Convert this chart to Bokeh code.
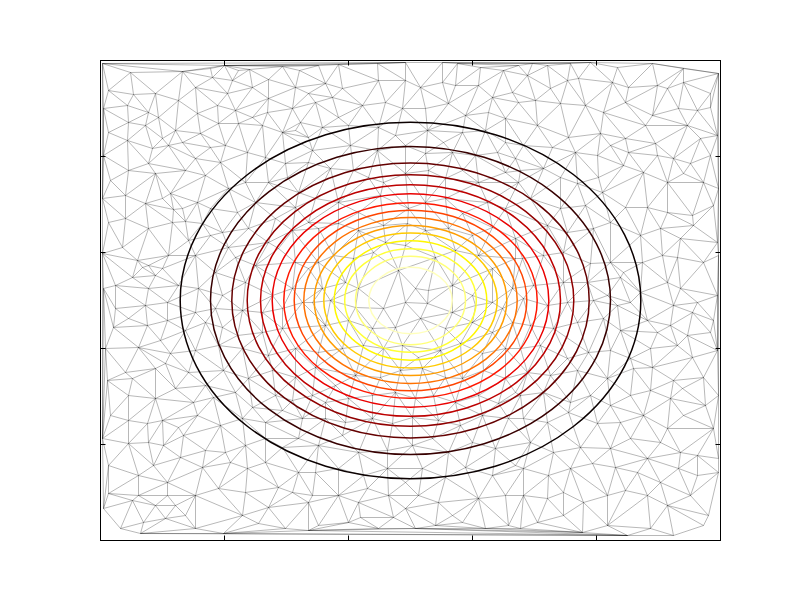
from bokeh.plotting import figure
from bokeh.models import Range1d, LinearAxis, FixedTicker
from bokeh.embed import file_html
from bokeh.resources import INLINE

# ---------------- data (domain: x 0..620, y 0..480) ----------------
x_ticks = [0, 124, 248, 372, 496, 620]
y_ticks = [0, 96, 192, 288, 384, 480]

# contour levels (outer -> inner): semi-axes of the closed contours
contour_cx = 310
contour_cy = 240
contour_rx = [230.3, 200.0, 178.7, 163.3, 150.0, 138.3, 126.7, 116.3, 106.7, 96.3, 86.7, 76.3, 65.8, 55.0, 41.7]
contour_ry = [178.2, 154.0, 137.5, 125.8, 115.8, 106.7, 97.8, 90.3, 83.0, 75.0, 67.5, 59.7, 51.7, 44.2, 33.3]
contour_colors = ["#0b0000", "#370000", "#640000", "#900000", "#bd0000", "#ea0000", "#ff1700",
                  "#ff4400", "#ff7100", "#ff9d00", "#ffca00", "#fff700", "#ffff36", "#ffff79", "#ffffbc"]

# triangulation vertices
mesh_points = [
    (2, 477), (30, 468), (82, 469), (110, 472), (124, 475), (138, 470), (149, 471), (168, 461), (182, 474), (199, 470),
    (8, 450), (33, 446), (55, 447), (95, 453), (112, 463), (132, 460), (127, 447), (152, 453), (168, 442), (195, 453), (208, 447),
    (3, 432), (27, 435), (48, 428), (58, 423), (78, 440), (97, 427), (117, 435), (135, 430), (152, 423), (167, 428), (192, 432), (200, 418),
    (8, 408), (28, 418), (45, 415), (62, 402), (75, 410), (82, 398), (100, 407), (118, 417), (138, 417), (162, 415), (182, 408), (195, 410), (208, 403),
    (3, 385), (27, 400), (52, 392), (68, 395), (95, 382), (110, 393), (125, 395), (147, 388), (165, 383), (185, 377), (208, 378),
    (10, 360), (28, 370), (48, 377), (55, 367), (85, 370), (105, 365), (120, 378), (128, 352), (145, 358), (168, 358), (187, 363), (198, 348),
    (2, 342), (25, 345), (45, 337), (62, 342), (70, 347), (82, 332), (73, 331), (85, 319), (97, 338), (110, 332), (137, 328), (155, 338), (175, 322), (195, 333),
    (8, 318), (25, 322), (48, 312), (72, 318), (88, 300), (102, 317), (110, 305), (122, 308), (128, 293), (148, 312), (168, 298), (192, 310), (208, 318),
    (2, 287), (22, 293), (37, 280), (42, 273), (48, 275), (62, 272), (68, 285), (95, 285), (115, 268), (135, 283), (155, 275), (178, 292), (195, 278), (208, 272),
    (3, 252), (15, 255), (32, 263), (48, 252), (55, 265), (78, 255), (98, 252), (122, 245), (145, 258), (172, 245), (192, 252),
    (218, 475), (238, 476), (277, 477), (305, 478), (342, 478), (357, 477), (380, 473), (403, 470), (418, 475),
    (225, 457), (242, 452), (278, 460), (305, 460), (320, 453), (342, 458), (355, 455), (378, 455), (392, 443), (412, 448),
    (215, 438), (232, 443), (238, 423), (262, 435), (285, 438), (302, 432), (325, 432), (348, 437), (365, 425), (388, 428), (405, 422), (418, 438),
    (222, 413), (248, 415), (278, 413), (295, 405), (327, 410), (343, 398), (362, 408), (385, 410), (405, 398),
    (212, 390), (250, 395), (277, 390), (305, 395), (325, 387), (352, 388), (375, 385), (397, 388), (415, 382),
    (230, 372), (253, 370), (268, 363), (283, 358), (305, 367), (328, 370), (345, 362), (362, 370), (378, 358), (405, 368), (418, 358),
    (215, 342), (238, 338), (258, 328), (280, 345), (308, 332), (325, 338), (345, 342), (362, 327), (387, 338), (405, 332),
    (218, 312), (238, 317), (258, 310), (283, 315), (307, 317), (325, 310), (348, 312), (372, 305), (392, 313), (415, 302),
    (218, 278), (233, 285), (253, 282), (273, 288), (285, 298), (305, 295), (335, 283), (355, 290), (378, 285), (392, 272), (415, 282),
    (222, 252), (245, 258), (258, 252), (298, 270), (315, 252), (328, 250), (352, 255), (372, 245), (392, 238), (412, 252),
    (432, 477), (447, 475), (470, 477), (490, 478), (517, 473), (552, 477), (583, 472), (618, 467),
    (427, 465), (450, 452), (467, 460), (478, 462), (512, 458), (528, 453), (557, 455), (567, 452), (583, 458), (610, 447),
    (435, 440), (460, 437), (485, 435), (503, 428), (525, 438), (552, 425), (578, 432), (597, 430), (610, 433), (617, 405),
    (437, 415), (468, 403), (500, 407), (525, 402), (545, 415), (555, 397), (587, 415), (600, 402),
    (423, 395), (452, 393), (475, 388), (497, 385), (510, 395), (528, 388), (543, 368), (557, 385), (573, 382), (590, 377), (610, 385),
    (420, 370), (443, 372), (460, 363), (477, 357), (498, 363), (523, 375), (567, 358), (583, 367), (603, 358), (618, 352),
    (430, 342), (460, 332), (485, 335), (502, 348), (525, 333), (547, 333), (567, 328), (592, 325), (613, 335),
    (447, 315), (467, 308), (493, 312), (510, 318), (540, 305), (560, 312), (580, 302), (593, 315), (617, 298),
    (422, 282), (443, 285), (463, 288), (490, 277), (510, 278), (523, 268), (542, 278), (562, 285), (577, 283), (603, 278), (618, 285),
    (433, 255), (463, 258), (487, 258), (507, 245), (520, 263), (540, 248), (567, 258), (580, 252), (597, 238), (617, 245),
    (15, 232), (45, 235), (67, 238), (95, 228), (115, 232), (142, 230), (162, 228), (182, 232), (202, 238),
    (13, 213), (28, 222), (47, 215), (67, 220), (85, 210), (105, 218), (122, 213), (137, 205), (162, 208), (182, 212),
    (5, 192), (38, 193), (60, 200), (70, 187), (95, 190), (118, 195), (142, 192), (168, 185), (195, 192),
    (7, 160), (25, 168), (32, 162), (55, 172), (65, 177), (88, 168), (105, 155), (123, 170), (148, 162), (172, 170), (195, 163),
    (28, 145), (55, 142), (75, 152), (93, 138), (113, 143), (135, 148), (152, 133), (175, 145), (192, 140),
    (10, 125), (28, 120), (47, 117), (62, 120), (78, 113), (97, 125), (120, 115), (142, 122), (165, 118), (182, 130), (202, 122),
    (2, 102), (28, 97), (48, 98), (63, 95), (83, 105), (105, 90), (125, 88), (145, 95), (165, 102), (182, 93), (198, 102),
    (8, 75), (38, 65), (53, 75), (67, 58), (80, 83), (102, 73), (130, 78), (147, 72), (165, 78), (178, 53), (198, 68),
    (3, 32), (8, 47), (32, 40), (38, 45), (55, 35), (67, 45), (75, 35), (95, 45), (118, 52), (145, 48), (168, 33), (192, 48), (208, 38),
    (20, 12), (40, 7), (43, 18), (65, 22), (85, 25), (95, 12), (123, 7), (142, 25), (158, 17), (185, 12), (208, 10),
    (212, 238), (230, 240), (255, 233), (283, 232), (305, 238), (327, 237), (352, 228), (375, 235), (402, 232),
    (225, 215), (248, 220), (272, 212), (295, 213), (320, 222), (345, 212), (372, 218), (392, 208), (412, 218),
    (218, 188), (242, 192), (263, 195), (283, 192), (302, 195), (318, 183), (340, 190), (360, 197), (382, 187), (405, 192),
    (215, 173), (235, 155), (255, 165), (280, 163), (300, 170), (322, 172), (345, 163), (362, 162), (383, 170), (405, 162),
    (212, 145), (225, 138), (248, 142), (272, 145), (295, 148), (315, 142), (333, 145), (355, 138), (378, 145), (398, 137), (415, 148),
    (225, 122), (245, 118), (272, 122), (292, 117), (312, 123), (338, 120), (360, 115), (382, 125), (408, 122),
    (218, 95), (242, 105), (258, 88), (287, 90), (312, 95), (332, 102), (348, 88), (372, 98), (395, 92),
    (215, 68), (238, 72), (263, 65), (287, 72), (305, 58), (322, 72), (345, 63), (365, 73), (392, 65), (415, 75),
    (212, 45), (238, 45), (258, 38), (267, 52), (288, 45), (305, 32), (318, 45), (338, 38), (352, 25), (378, 42), (405, 45),
    (218, 15), (248, 18), (260, 23), (278, 12), (293, 23), (315, 12), (335, 15), (362, 18), (385, 12), (408, 15),
    (423, 242), (447, 235), (467, 238), (493, 240), (517, 235), (530, 238), (547, 220), (573, 235), (592, 228), (613, 220),
    (430, 215), (453, 212), (477, 218), (503, 222), (520, 210), (557, 208), (570, 215), (587, 205), (610, 208),
    (420, 192), (440, 195), (467, 182), (488, 188), (510, 190), (530, 182), (550, 192), (577, 195), (592, 183), (617, 190),
    (427, 168), (450, 165), (477, 170), (507, 162), (533, 172), (552, 173), (573, 160), (603, 163),
    (420, 145), (443, 148), (470, 138), (490, 145), (510, 135), (530, 145), (550, 150), (570, 142), (582, 152), (605, 135), (618, 145),
    (423, 122), (447, 118), (468, 128), (497, 117), (520, 118), (543, 125), (567, 112), (583, 125), (613, 112),
    (430, 98), (453, 88), (480, 93), (510, 92), (530, 102), (547, 82), (560, 98), (580, 88), (597, 85), (618, 82),
    (423, 72), (448, 65), (470, 72), (492, 77), (515, 73), (537, 68), (560, 58), (578, 72), (597, 65), (618, 68),
    (423, 45), (447, 42), (463, 48), (483, 38), (507, 45), (525, 50), (547, 45), (567, 35), (590, 45), (608, 25),
    (420, 12), (437, 18), (463, 25), (482, 8), (507, 15), (527, 5), (550, 12), (573, 5), (603, 15),
]
mesh_x = [p[0] for p in mesh_points]
mesh_y = [p[1] for p in mesh_points]

X_MIN, X_MAX = 0, 620
Y_MIN, Y_MAX = 0, 480


# ---------------- Delaunay triangulation (Bowyer-Watson) ----------------
def circumcircle(ax, ay, bx, by, cx, cy):
    d = 2.0 * (ax * (by - cy) + bx * (cy - ay) + cx * (ay - by))
    if abs(d) < 1e-14:
        return (0.0, 0.0, float("inf"))
    a2 = ax * ax + ay * ay
    b2 = bx * bx + by * by
    c2 = cx * cx + cy * cy
    ux = (a2 * (by - cy) + b2 * (cy - ay) + c2 * (ay - by)) / d
    uy = (a2 * (cx - bx) + b2 * (ax - cx) + c2 * (bx - ax)) / d
    return (ux, uy, (ax - ux) ** 2 + (ay - uy) ** 2)


def delaunay_edges(xs, ys):
    pts = []
    seen = set()
    for x, y in zip(xs, ys):
        if (x, y) in seen:
            continue
        seen.add((x, y))
        pts.append((x, y))
    n = len(pts)
    # normalise to unit-ish square (triangulation done in the chart's own coordinates)
    P = [((x - X_MIN) / (X_MAX - X_MIN) * 2.0, (y - Y_MIN) / (Y_MAX - Y_MIN) * 2.0) for x, y in pts]
    P += [(-999.0, -999.0), (1001.0, -999.0), (1.0, 1001.0)]
    tris = {}
    t0 = (n, n + 1, n + 2)
    tris[t0] = circumcircle(*P[n], *P[n + 1], *P[n + 2])
    for i in range(n):
        px, py = P[i]
        bad = [t for t, (ux, uy, r2) in tris.items() if (px - ux) ** 2 + (py - uy) ** 2 < r2]
        if not bad:
            continue
        count = {}
        for t in bad:
            for e in ((t[0], t[1]), (t[1], t[2]), (t[2], t[0])):
                k = (min(e), max(e))
                count[k] = count.get(k, 0) + 1
        for t in bad:
            del tris[t]
        for (a, b), c in count.items():
            if c == 1:
                nt = (a, b, i)
                tris[nt] = circumcircle(*P[a], *P[b], *P[i])
    edges = set()
    for t in tris:
        if max(t) >= n:
            continue
        for e in ((t[0], t[1]), (t[1], t[2]), (t[2], t[0])):
            edges.add((min(e), max(e)))
    x0 = [pts[a][0] for a, b in edges]
    y0 = [pts[a][1] for a, b in edges]
    x1 = [pts[b][0] for a, b in edges]
    y1 = [pts[b][1] for a, b in edges]
    return x0, y0, x1, y1


ex0, ey0, ex1, ey1 = delaunay_edges(mesh_x, mesh_y)

# ---------------- figure ----------------
p = figure(width=800, height=600, output_backend="svg", toolbar_location=None,
           x_range=Range1d(X_MIN, X_MAX), y_range=Range1d(Y_MIN, Y_MAX),
           min_border_left=100, min_border_right=80, min_border_top=60, min_border_bottom=60,
           x_axis_type=None, y_axis_type=None)
p.background_fill_color = "white"
p.border_fill_color = "white"
p.outline_line_color = "black"
p.outline_line_width = 1
p.grid.visible = False

for loc, ticks in (("below", x_ticks), ("above", x_ticks), ("left", y_ticks), ("right", y_ticks)):
    ax = LinearAxis(ticker=FixedTicker(ticks=ticks))
    ax.major_label_overrides = {t: "" for t in ticks}
    ax.major_tick_in = 5
    ax.major_tick_out = 0
    ax.minor_tick_in = 0
    ax.minor_tick_out = 0
    ax.axis_line_color = "black"
    ax.major_tick_line_color = "black"
    ax.major_label_standoff = 0
    p.add_layout(ax, loc)

p.segment(x0=ex0, y0=ey0, x1=ex1, y1=ey1, line_color="black", line_alpha=0.28, line_width=1)

p.ellipse(x=[contour_cx] * len(contour_rx), y=[contour_cy] * len(contour_ry),
          width=[2 * r for r in contour_rx], height=[2 * r for r in contour_ry],
          fill_color=None, line_color=contour_colors, line_width=1.5)

open("out.html", "w").write(file_html(p, INLINE))
